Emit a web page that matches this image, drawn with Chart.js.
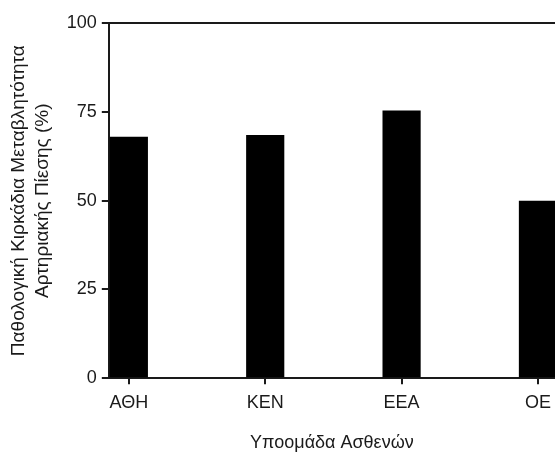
<!DOCTYPE html>
<html>
<head>
<meta charset="utf-8">
<script src="https://cdn.jsdelivr.net/npm/chart.js@4/dist/chart.umd.min.js"></script>
<style>
  html, body { margin: 0; padding: 0; background: #fff; }
  #wrap { width: 555px; height: 454px; }
</style>
</head>
<body>
<div id="wrap"><canvas id="c" width="555" height="454"></canvas></div>
<script>
const categories = ['ΑΘΗ', 'ΚΕΝ', 'ΕΕΑ', 'ΟΕ'];
const values = [68, 68.5, 75.4, 50];
const yTicks = [0, 25, 50, 75, 100];
const yTitle = ['Παθολογική Κιρκάδια Μεταβλητότητα', 'Αρτηριακής Πίεσης (%)'];
const xTitle = 'Υποομάδα Ασθενών';

const FONT = "'Liberation Sans', Arial, sans-serif";
const INK = '#1a1a1a';

const points = values.map((v, i) => ({ x: i, y: v }));

new Chart(document.getElementById('c'), {
  type: 'bar',
  data: {
    datasets: [{
      data: points,
      backgroundColor: '#000',
      borderWidth: 0,
      categoryPercentage: 1,
      barPercentage: 0.28
    }]
  },
  options: {
    responsive: false,
    animation: false,
    events: [],
    layout: { padding: { left: 3, right: 0, top: 23, bottom: 0 } },
    plugins: { legend: { display: false }, tooltip: { enabled: false } },
    scales: {
      x: {
        type: 'linear',
        position: 'bottom',
        offset: false,
        min: -0.147,
        max: 3.125,
        afterBuildTicks: (s) => { s.ticks = categories.map((_, i) => ({ value: i })); },
        ticks: {
          callback: (v) => categories[v],
          font: { family: FONT, size: 18, lineHeight: 1.744 },
          color: INK,
          padding: 3,
          maxRotation: 0,
          autoSkip: false
        },
        grid: {
          display: true, offset: false, drawOnChartArea: false, drawTicks: true,
          tickLength: 6, color: INK, lineWidth: 2, tickColor: INK, tickWidth: 2
        },
        border: { display: true, color: INK, width: 2 },
        title: {
          display: true,
          text: xTitle,
          font: { family: FONT, size: 18 },
          color: INK,
          padding: { top: 10.7, bottom: 0 }
        }
      },
      xTop: {
        type: 'linear',
        position: 'top',
        offset: false,
        min: -0.147,
        max: 3.125,
        ticks: { display: false },
        grid: { offset: false, drawOnChartArea: false, drawTicks: false },
        border: { display: true, color: INK, width: 2 }
      },
      y: {
        min: 0,
        max: 100,
        afterBuildTicks: (s) => { s.ticks = yTicks.map(v => ({ value: v })); },
        ticks: {
          font: { family: FONT, size: 18 },
          color: INK,
          padding: 5
        },
        grid: {
          drawOnChartArea: false, tickLength: 7, color: INK, lineWidth: 2,
          tickColor: INK, tickWidth: 2
        },
        border: { display: true, color: INK, width: 2 },
        title: {
          display: true,
          text: yTitle,
          font: { family: FONT, size: 19, lineHeight: 1.29 },
          color: INK,
          padding: { top: 3.5, bottom: 6.25 }
        }
      }
    }
  }
});
</script>
</body>
</html>
